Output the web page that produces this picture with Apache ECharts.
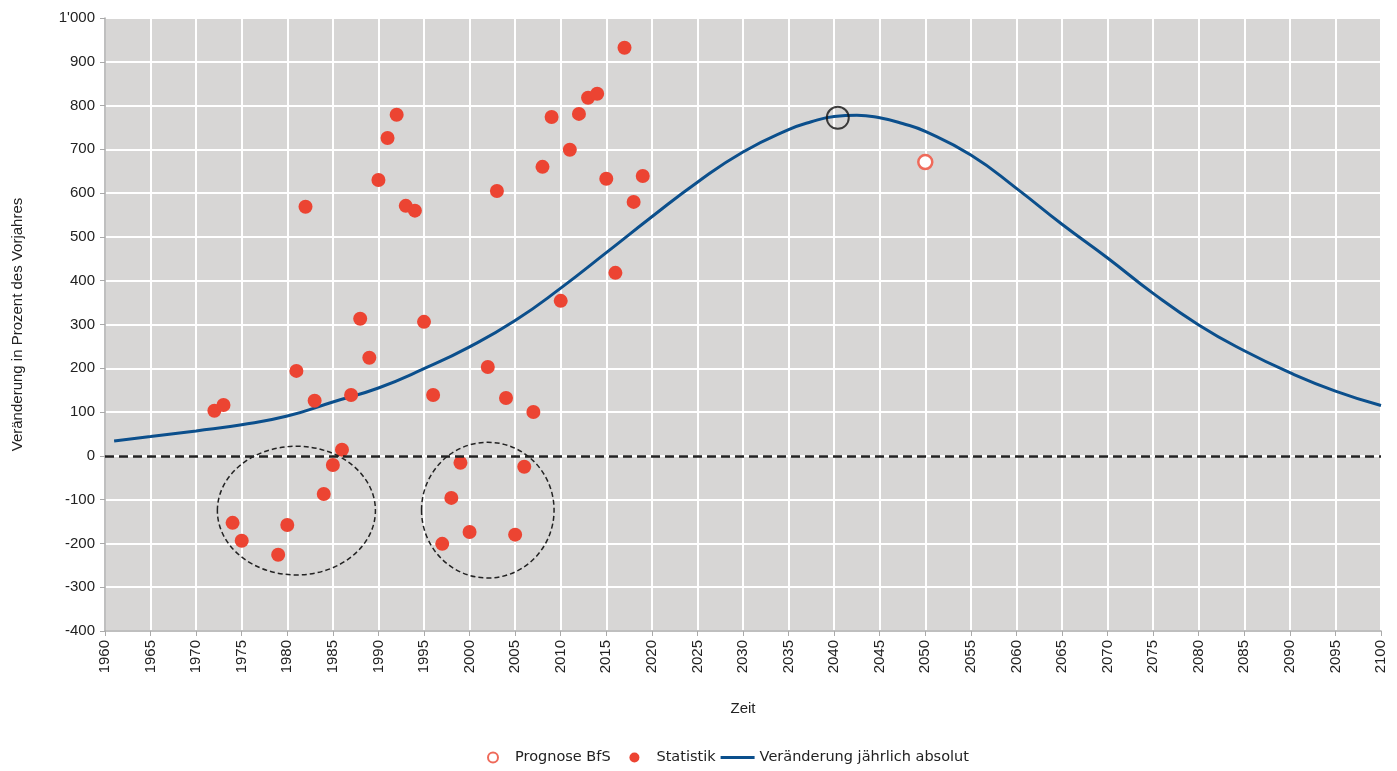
<!DOCTYPE html>
<html>
<head>
<meta charset="utf-8">
<script src="https://cdn.jsdelivr.net/npm/echarts@6/dist/echarts.min.js"></script>
<style>
html,body{margin:0;padding:0;background:#fff;}
#chart{width:1397px;height:771px;}
</style>
</head>
<body>
<div id="chart"></div>
<script>
// ---- data ----
const statYears  = [1972,1973,1974,1975,1979,1980,1981,1982,1983,1984,1985,1986,1987,1988,1989,1990,1991,1992,1993,1994,1995,1996,1997,1998,1999,2000,2002,2003,2004,2005,2006,2007,2008,2009,2010,2011,2012,2013,2014,2015,2016,2017,2018,2019];
const statValues = [103,116,-153,-194,-226,-158,194,569,126,-87,-21,14,139,313,224,630,726,779,571,560,306,139,-201,-96,-16,-174,203,605,132,-180,-25,100,660,774,354,699,781,818,827,633,418,932,580,639];

const prognoseYears  = [2050];
const prognoseValues = [671];

const curveYears  = [1961,1965,1970,1975,1980,1985,1990,1995,2000,2005,2010,2015,2020,2025,2030,2035,2037.5,2040,2042.5,2045,2047.5,2050,2055,2060,2065,2070,2075,2080,2085,2090,2095,2100];
const curveValues = [34,44,57,71,91,123,155,199,249,309,383,464,546,625,694,745,763,775,778,772,759,741,687,611,529,452,371,299,240,190,148,115];

const peakYears  = [2040.4];
const peakValues = [772];

// annotation ellipses (center year, center value, radius years, radius value)
const ellipseCenters = [[1981.0,-125],[2002.0,-124]];
const ellipseRadii   = [[8.67,147],[7.27,155]];

const xTicks = {min:1960, max:2100, step:5};
const yTicks = {min:-400, max:1000, step:100};

const zip = (a,b) => a.map((v,i)=>[v,b[i]]);

const chart = echarts.init(document.getElementById('chart'));
const axisFont = "'Liberation Sans', Arial, sans-serif";

chart.setOption({
  animation:false,
  backgroundColor:'#fff',
  grid:{left:105,right:16,top:18,bottom:140,show:true,backgroundColor:'#d7d6d5',borderWidth:0},
  legend:{
    bottom:1, left:482,
    itemGap:5, itemWidth:34, itemHeight:10,
    textStyle:{fontFamily:"'DejaVu Sans', sans-serif",fontSize:14.5,color:'#222'},
    formatter: n => n === 'Prognose BfS' ? n + '   ' : n,
    data:[
      {name:'Prognose BfS', icon:'circle'},
      {name:'Statistik', icon:'circle'},
      {name:'Veränderung jährlich absolut', icon:'path://M0,0 L34,0 L34,3 L0,3 Z'}
    ]
  },
  xAxis:{
    type:'value', min:xTicks.min, max:xTicks.max, interval:xTicks.step,
    name:'Zeit', nameLocation:'middle', nameGap:70,
    nameTextStyle:{fontFamily:axisFont,fontSize:15,color:'#222'},
    axisLine:{show:true,onZero:false,lineStyle:{color:'#aaa',width:1.5}},
    axisTick:{show:true,length:5,lineStyle:{color:'#aaa'}},
    axisLabel:{rotate:90,margin:9,fontFamily:axisFont,fontSize:15,color:'#222',formatter:v=>String(v)},
    splitLine:{show:true,lineStyle:{color:'#fff',width:2}}
  },
  yAxis:{
    type:'value', min:yTicks.min, max:yTicks.max, interval:yTicks.step,
    name:'Veränderung in Prozent des Vorjahres', nameLocation:'middle', nameGap:80,
    nameTextStyle:{fontFamily:axisFont,fontSize:15,color:'#222'},
    axisLine:{show:true,onZero:false,lineStyle:{color:'#aaa',width:1.5}},
    axisTick:{show:true,length:5,lineStyle:{color:'#aaa'}},
    axisLabel:{margin:10,fontFamily:axisFont,fontSize:15,color:'#222',
      formatter:v=> v>=1000 ? (Math.floor(v/1000)+"'"+String(v%1000).padStart(3,'0')) : String(v)},
    splitLine:{show:true,lineStyle:{color:'#fff',width:2}}
  },
  series:[
    {
      name:'Veränderung jährlich absolut', type:'line', smooth:0.5, symbol:'none',
      data:zip(curveYears,curveValues),
      lineStyle:{color:'#0b4f8c',width:3}, itemStyle:{color:'#0b4f8c'}, z:3
    },
    {
      name:'Statistik', type:'scatter', symbolSize:14,
      data:zip(statYears,statValues),
      itemStyle:{color:'#ec4432',opacity:1}, z:4,
      markLine:{
        silent:true, symbol:['none','none'], label:{show:false},
        lineStyle:{color:'#222',type:[9,5],width:2.5},
        data:[{yAxis:0}]
      }
    },
    {
      name:'Prognose BfS', type:'scatter', symbolSize:14,
      data:zip(prognoseYears,prognoseValues),
      itemStyle:{color:'#ffffff',borderColor:'#ef6a5a',borderWidth:2.5,opacity:1}, z:4
    },
    {
      name:'peak', type:'scatter', symbolSize:22,
      data:zip(peakYears,peakValues),
      itemStyle:{color:'rgba(0,0,0,0)',borderColor:'#111',borderWidth:2}, z:5
    }
  ]
});

function drawEllipses(){
  const els = ellipseCenters.map((c,i)=>{
    const p  = chart.convertToPixel({gridIndex:0}, c);
    const px = chart.convertToPixel({gridIndex:0}, [c[0]+ellipseRadii[i][0], c[1]+ellipseRadii[i][1]]);
    return {
      type:'ellipse', z:6, silent:true,
      shape:{cx:p[0],cy:p[1],rx:Math.abs(px[0]-p[0]),ry:Math.abs(px[1]-p[1])},
      style:{fill:null,stroke:'#222',lineWidth:1.5,lineDash:[5,3]}
    };
  });
  chart.setOption({graphic:els});
}
drawEllipses();
</script>
</body>
</html>
